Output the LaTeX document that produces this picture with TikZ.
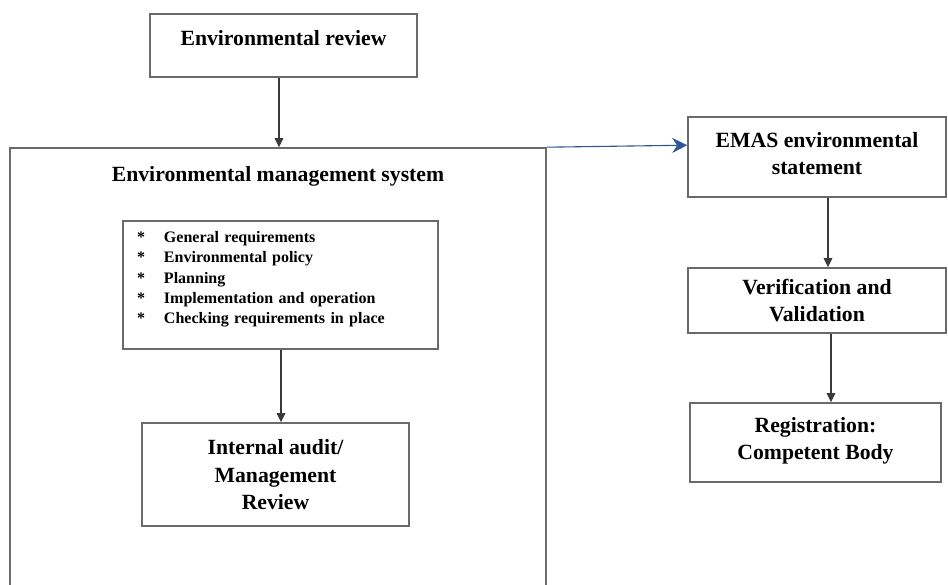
\documentclass[tikz,border=0pt]{standalone}
\usepackage{fontspec}
\setmainfont{Liberation Serif}
\usetikzlibrary{arrows.meta}
\definecolor{boxgray}{HTML}{6A6A6A}
\definecolor{arrgray}{HTML}{3A3A3A}
\definecolor{arrblue}{HTML}{2E5597}
\tikzset{
  box/.style={draw=boxgray, line width=1.6pt, fill=white, inner sep=0pt, align=center,
    font=\bfseries\fontsize{21.7}{27.5}\selectfont},
  arr/.style={draw=arrgray, line width=1.4pt, -{Triangle[length=9pt,width=8.5pt]}},
  bluearr/.style={draw=arrblue, line width=1.1pt, -{Stealth[length=15pt,width=15pt,inset=5pt]}}
}
\newcommand{\liftby}[2]{\raisebox{#1}[\height][\depth]{\begin{tabular}{@{}c@{}}#2\end{tabular}}}
\begin{document}
\begin{tikzpicture}[x=1pt,y=-1pt]
\useasboundingbox (0,0) rectangle (948,585);
\clip (0,0) rectangle (948,585);
\node[box, minimum width=267pt, minimum height=63pt] (rev) at (283.5,45.5) {\liftby{5pt}{Environmental review}};
\node[box, minimum width=536pt, minimum height=452pt] (ems) at (278,374) {};
\node[font=\bfseries\fontsize{21.7}{27.5}\selectfont, inner sep=0pt] (emstitle) at (278,176) {Environmental management system};
\node[box, minimum width=315pt, minimum height=128pt, inner xsep=14pt, text width=287pt, align=left,
  font=\bfseries\fontsize{16}{20.4}\selectfont] (list) at (280.5,285)
  {\begin{tabular}{@{}p{27pt}@{}l@{}}
  {*} & General requirements\\
  {*} & Environmental policy\\
  {*} & Planning\\
  {*} & Implementation and operation\\
  {*} & Checking requirements in place\\[12pt]
  \end{tabular}};
\node[box, minimum width=267pt, minimum height=103pt] (audit) at (275.5,474.5) {\liftby{-2pt}{Internal audit/\\Management\\Review}};
\node[box, minimum width=258pt, minimum height=80pt] (emas) at (817,157) {\liftby{1.5pt}{EMAS environmental\\statement}};
\node[box, minimum width=258pt, minimum height=65pt] (verif) at (817,300.5) {\liftby{-2pt}{Verification and\\Validation}};
\node[box, minimum width=251pt, minimum height=79pt] (reg) at (815.5,442.5) {\liftby{2pt}{Registration:\\Competent Body}};
\draw[arr] ([xshift=-4.5pt]rev.south) -- ([xshift=-4.5pt]rev.south |- ems.north);
\draw[arr] ([xshift=0.5pt]list.south) -- ([xshift=0.5pt]list.south |- audit.north);
\draw[arr] ([xshift=11pt]emas.south) -- ([xshift=11pt]emas.south |- verif.north);
\draw[arr] ([xshift=14pt]verif.south) -- ([xshift=14pt]verif.south |- reg.north);
\draw[bluearr] (ems.north east) -- ([yshift=2pt]ems.north east -| emas.west);
\end{tikzpicture}
\end{document}
